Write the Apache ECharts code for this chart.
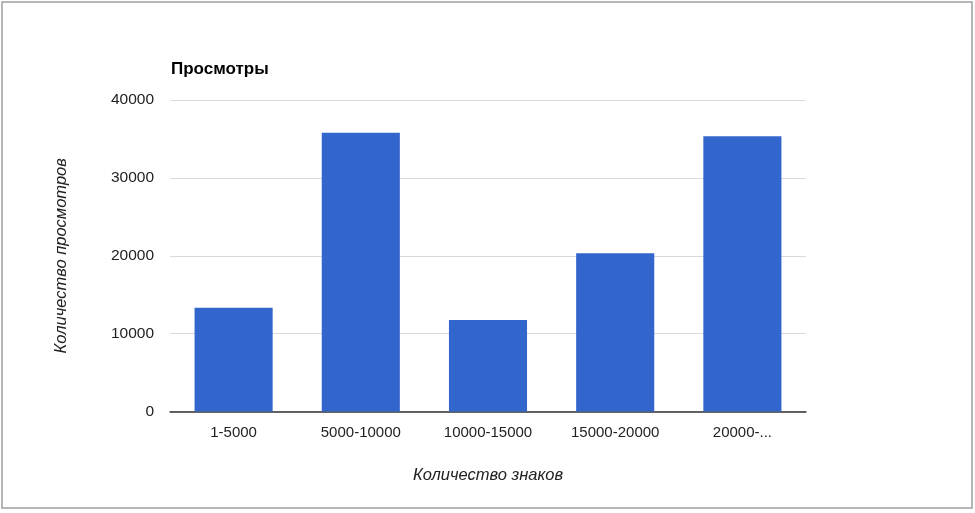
<!DOCTYPE html>
<html>
<head>
<meta charset="utf-8">
<script src="https://cdn.jsdelivr.net/npm/echarts@6/dist/echarts.min.js"></script>
<style>
  html, body { margin: 0; padding: 0; background: #fff; }
  #chart { width: 975px; height: 513px; }
</style>
</head>
<body>
<div id="chart"></div>
<script>
// категории по количеству знаков и просмотры
var categories = ['1-5000', '5000-10000', '10000-15000', '15000-20000', '20000-...'];
var views = [13330, 35800, 11750, 20310, 35340];
var yTicks = [0, 10000, 20000, 30000, 40000];

var chart = echarts.init(document.getElementById('chart'));
var option = {
    backgroundColor: '#fff',
    animation: false,
    title: {
        text: 'Просмотры',
        left: 166,
        top: 56,
        textStyle: { fontFamily: 'Liberation Sans', fontSize: 17, fontWeight: 'bold', color: '#000' }
    },
    graphic: [{
        type: 'rect',
        shape: { x: 2, y: 2, width: 970, height: 506 },
        style: { fill: 'none', stroke: '#9e9e9e', lineWidth: 1.5 }
    }],
    grid: { left: 170, right: 169, top: 100, bottom: 101.5 },
    xAxis: {
        type: 'category',
        data: categories,
        name: 'Количество знаков',
        nameLocation: 'middle',
        nameGap: 55,
        nameTextStyle: { fontFamily: 'Liberation Sans', fontSize: 16.5, fontStyle: 'italic', color: '#222' },
        axisLine: { lineStyle: { color: '#333', width: 1.5 } },
        axisTick: { show: false },
        axisLabel: { fontFamily: 'Liberation Sans', fontSize: 15, color: '#222', margin: 14, interval: 0 }
    },
    yAxis: {
        type: 'value',
        min: yTicks[0],
        max: yTicks[yTicks.length - 1],
        interval: yTicks[1] - yTicks[0],
        name: 'Количество просмотров',
        nameLocation: 'middle',
        nameGap: 100,
        nameTextStyle: { fontFamily: 'Liberation Sans', fontSize: 16.5, fontStyle: 'italic', color: '#222' },
        axisLine: { show: false },
        axisTick: { show: false },
        splitLine: { lineStyle: { color: '#d9d9d9', width: 1.2 } },
        axisLabel: {
            fontFamily: 'Liberation Sans', fontSize: 15.5, color: '#222', margin: 16,
            formatter: function (v) { return String(v); }
        }
    },
    series: [{
        type: 'bar',
        data: views,
        barCategoryGap: '38.6%',
        itemStyle: { color: '#3366cc' }
    }]
};
chart.setOption(option);
</script>
</body>
</html>
